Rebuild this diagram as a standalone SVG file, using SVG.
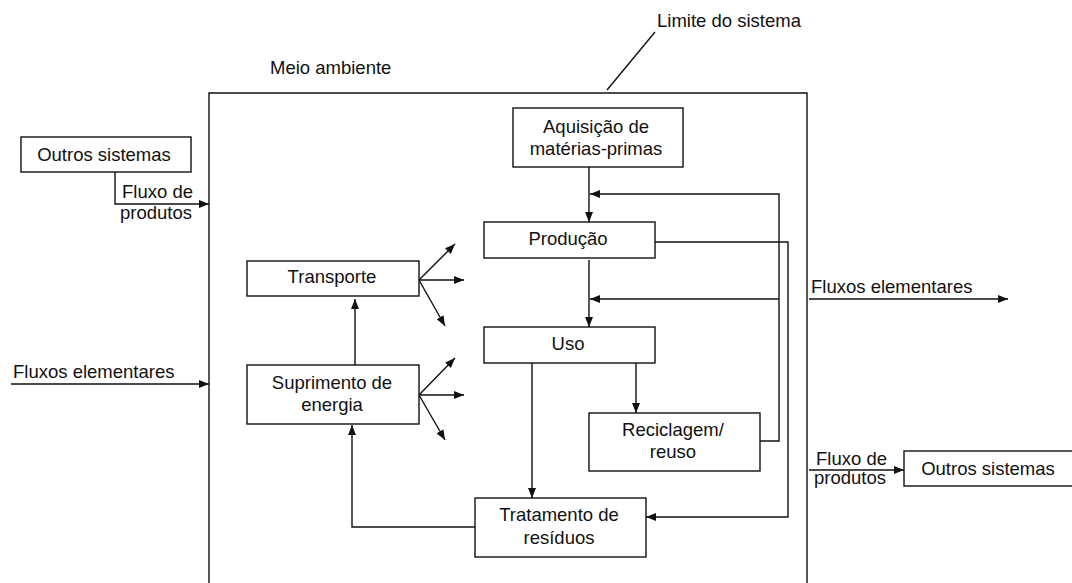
<svg xmlns="http://www.w3.org/2000/svg" width="1072" height="583" viewBox="0 0 1072 583">
<style>
text{font-family:"Liberation Sans",Arial,sans-serif;font-size:18.5px;fill:#111}
.c{text-anchor:middle}
.box{fill:#fff;stroke:#111;stroke-width:1.4}
.ln{fill:none;stroke:#111;stroke-width:1.4}
.ar{fill:none;stroke:#111;stroke-width:1.4;marker-end:url(#ah)}
</style>
<defs>
<marker id="ah" viewBox="0 0 10 8" refX="10" refY="4" markerWidth="10" markerHeight="8" markerUnits="userSpaceOnUse" orient="auto">
<path d="M0,0 L10,4 L0,8 Z" fill="#111"/>
</marker>
</defs>
<rect width="1072" height="583" fill="#fff"/>

<g id="boundary">
<path class="ln" d="M209,583 V93 H807 V583" stroke-width="1.6"/>
<text x="270" y="74">Meio ambiente</text>
<text x="657" y="27">Limite do sistema</text>
<line class="ln" x1="607" y1="90" x2="655" y2="32" stroke-width="1"/>
</g>

<g id="connectors">
<path class="ar" d="M115,172 V204 H209"/>
<text x="122" y="198">Fluxo de</text>
<text x="120" y="219">produtos</text>
<line class="ar" x1="11" y1="384" x2="209" y2="384"/>
<text x="13" y="378">Fluxos elementares</text>
<line class="ar" x1="809" y1="299" x2="1008" y2="299"/>
<text x="811" y="293">Fluxos elementares</text>
<line class="ar" x1="809" y1="470" x2="904" y2="470"/>
<text x="816" y="465">Fluxo de</text>
<text x="814" y="484">produtos</text>

<line class="ar" x1="589" y1="167" x2="589" y2="222"/>
<path class="ar" d="M760,441 H779 V194 H590"/>
<line class="ar" x1="589" y1="260" x2="589" y2="327"/>
<line class="ar" x1="779" y1="299" x2="590" y2="299"/>
<path class="ar" d="M655,242 H788 V517 H646"/>
<line class="ar" x1="532" y1="363" x2="532" y2="498"/>
<line class="ar" x1="636" y1="363" x2="636" y2="413"/>
<path class="ar" d="M475,527 H352 V425"/>
<line class="ar" x1="355" y1="365" x2="355" y2="299"/>

<line class="ar" x1="419" y1="280" x2="455" y2="244"/>
<line class="ar" x1="419" y1="280" x2="464" y2="280"/>
<line class="ar" x1="419" y1="280" x2="445" y2="326"/>
<line class="ar" x1="419" y1="395" x2="455" y2="358"/>
<line class="ar" x1="419" y1="395" x2="464" y2="395"/>
<line class="ar" x1="419" y1="395" x2="445" y2="440"/>
</g>

<g id="outros-left">
<rect class="box" x="21" y="137" width="170" height="35"/>
<text class="c" x="104" y="161">Outros sistemas</text>
</g>
<g id="outros-right">
<rect class="box" x="904" y="451" width="172" height="35"/>
<text class="c" x="988" y="475">Outros sistemas</text>
</g>
<g id="aquisicao">
<rect class="box" x="513" y="108" width="170" height="59"/>
<text class="c" x="596" y="133">Aquisição de</text>
<text class="c" x="596" y="155">matérias-primas</text>
</g>
<g id="producao">
<rect class="box" x="484" y="222" width="171" height="36"/>
<text class="c" x="568" y="245">Produção</text>
</g>
<g id="uso">
<rect class="box" x="484" y="327" width="171" height="36"/>
<text class="c" x="568" y="350">Uso</text>
</g>
<g id="reciclagem">
<rect class="box" x="589" y="413" width="171" height="58"/>
<text class="c" x="673" y="436">Reciclagem/</text>
<text class="c" x="673" y="458">reuso</text>
</g>
<g id="tratamento">
<rect class="box" x="475" y="498" width="171" height="59"/>
<text class="c" x="559" y="521">Tratamento de</text>
<text class="c" x="559" y="544">resíduos</text>
</g>
<g id="transporte">
<rect class="box" x="247" y="261" width="172" height="35"/>
<text class="c" x="332" y="283">Transporte</text>
</g>
<g id="suprimento">
<rect class="box" x="247" y="365" width="172" height="59"/>
<text class="c" x="332" y="389">Suprimento de</text>
<text class="c" x="332" y="411">energia</text>
</g>
</svg>
